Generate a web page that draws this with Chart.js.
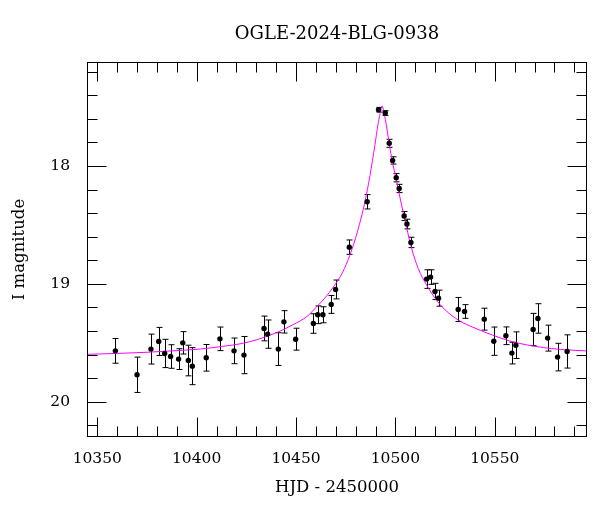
<!DOCTYPE html>
<html><head><meta charset="utf-8">
<script src="https://cdn.jsdelivr.net/npm/chart.js@4"></script>
<style>html,body{margin:0;padding:0;background:#fff}#wrap{width:600px;height:512px}</style>
</head><body><div id="wrap"><canvas id="c" width="600" height="512"></canvas></div>
<script>
const hjd = [10359.1, 10370.0, 10377.0, 10380.9, 10383.9, 10386.9, 10390.9, 10393.0, 10395.8, 10397.8,
  10404.8, 10411.7, 10418.8, 10423.8, 10433.9, 10435.7, 10441.1, 10443.9, 10449.8, 10458.7,
  10460.9, 10463.5, 10467.7, 10469.9, 10476.8, 10485.8, 10491.5, 10494.9, 10496.9, 10498.6,
  10500.4, 10501.9, 10504.4, 10505.8, 10507.8, 10515.7, 10517.7, 10519.9, 10521.7, 10531.6,
  10534.8, 10544.7, 10549.5, 10555.6, 10558.6, 10560.6, 10569.3, 10571.7, 10576.6, 10581.6, 10586.4];
const mag = [19.568, 19.771, 19.553, 19.488, 19.590, 19.616, 19.638, 19.500, 19.650, 19.698,
  19.627, 19.466, 19.568, 19.604, 19.378, 19.426, 19.553, 19.322, 19.469, 19.336,
  19.262, 19.262, 19.174, 19.047, 18.688, 18.303, 17.522, 17.550, 17.807, 17.952,
  18.099, 18.190, 18.424, 18.492, 18.648, 18.959, 18.942, 19.064, 19.121, 19.217,
  19.234, 19.299, 19.486, 19.440, 19.587, 19.520, 19.387, 19.293, 19.460, 19.621, 19.573];
const magErr = [0.105, 0.150, 0.127, 0.119, 0.120, 0.100, 0.088, 0.095, 0.130, 0.157,
  0.113, 0.100, 0.109, 0.158, 0.105, 0.120, 0.139, 0.095, 0.093, 0.083,
  0.075, 0.068, 0.076, 0.080, 0.061, 0.061, 0.020, 0.020, 0.034, 0.031,
  0.035, 0.035, 0.038, 0.041, 0.044, 0.079, 0.062, 0.069, 0.068, 0.102,
  0.058, 0.093, 0.120, 0.075, 0.092, 0.113, 0.137, 0.125, 0.110, 0.117, 0.141];

const modelHjd = [10344, 10360, 10375, 10390, 10402, 10413, 10423, 10430, 10436, 10440,
  10444, 10448, 10452, 10456, 10460, 10464.5, 10469, 10473.5, 10477, 10481,
  10484.7, 10487.2, 10489.7, 10491.2, 10492.3, 10493.3, 10494.4, 10495.5, 10496.6, 10498.1,
  10500.6, 10503.1, 10505.6, 10508.1, 10511.5, 10515.7, 10519.9, 10525, 10532, 10540,
  10549, 10557.6, 10566, 10574.4, 10583, 10598];
const modelMag = [19.598, 19.590, 19.580, 19.566, 19.552, 19.530, 19.505, 19.475, 19.440, 19.415,
  19.385, 19.350, 19.315, 19.270, 19.200, 19.120, 19.020, 18.900, 18.760, 18.550,
  18.300, 18.080, 17.820, 17.650, 17.555, 17.490, 17.560, 17.660, 17.780, 17.930,
  18.130, 18.330, 18.520, 18.695, 18.870, 19.010, 19.120, 19.220, 19.310, 19.375,
  19.435, 19.485, 19.517, 19.540, 19.556, 19.570];

const xTickLabels = [10350, 10400, 10450, 10500, 10550];
const yTickLabels = [18, 19, 20];
const chartTitle = 'OGLE-2024-BLG-0938';
const xTitle = 'HJD - 2450000';
const yTitle = 'I magnitude';

const SERIF = "'DejaVu Serif', 'Liberation Serif', serif";

const framePlugin = {
  id: 'frameTicks',
  beforeDatasetsDraw(chart) {
    const {ctx, chartArea: a, scales: {x, y}} = chart;
    ctx.save();
    ctx.beginPath();
    ctx.rect(a.left, a.top, a.right - a.left, a.bottom - a.top);
    ctx.clip();
    ctx.strokeStyle = '#000';
    ctx.lineWidth = 1;
    for (let i = 0; i < hjd.length; i++) {
      const px = Math.round(x.getPixelForValue(hjd[i])) + 0.5;
      const y1 = y.getPixelForValue(mag[i] - magErr[i]);
      const y2 = y.getPixelForValue(mag[i] + magErr[i]);
      ctx.beginPath();
      ctx.moveTo(px, y1); ctx.lineTo(px, y2);
      ctx.moveTo(px - 3, y1); ctx.lineTo(px + 3, y1);
      ctx.moveTo(px - 3, y2); ctx.lineTo(px + 3, y2);
      ctx.stroke();
    }
    ctx.restore();
  },
  afterDraw(chart) {
    const {ctx, chartArea: a, scales: {x, y}} = chart;
    ctx.save();
    ctx.strokeStyle = '#000';
    ctx.lineWidth = 1;
    const L = Math.round(a.left) + 0.5, R = Math.round(a.right) - 0.5;
    const T = Math.round(a.top) + 0.5, B = Math.round(a.bottom) - 0.5;
    ctx.strokeRect(L, T, R - L, B - T);
    const major = 19, minor = 10;
    ctx.beginPath();
    for (let v = Math.ceil(x.min / 10) * 10; v <= x.max; v += 10) {
      const isMajor = xTickLabels.includes(v) || v % 50 === 0;
      const len = isMajor ? major : minor;
      const px = Math.round(x.getPixelForValue(v)) + 0.5;
      ctx.moveTo(px, B); ctx.lineTo(px, B - len);
      ctx.moveTo(px, T); ctx.lineTo(px, T + len);
    }
    for (let k = Math.ceil(y.min / 0.2 - 1e-6); k * 0.2 <= y.max + 1e-6; k++) {
      const v = k * 0.2;
      const isMajor = Math.abs(v - Math.round(v)) < 1e-6;
      const len = isMajor ? major : minor;
      const py = Math.round(y.getPixelForValue(v)) + 0.5;
      ctx.moveTo(L, py); ctx.lineTo(L + len, py);
      ctx.moveTo(R, py); ctx.lineTo(R - len, py);
    }
    ctx.stroke();
    ctx.restore();
  }
};

new Chart(document.getElementById('c'), {
  type: 'scatter',
  data: {
    datasets: [
      {
        label: 'data',
        data: hjd.map((v, i) => ({x: v, y: mag[i]})),
        pointRadius: 2.7,
        pointBackgroundColor: '#000',
        pointBorderWidth: 0,
        showLine: false
      },
      {
        label: 'model',
        data: modelHjd.map((v, i) => ({x: v, y: modelMag[i]})),
        showLine: true,
        borderColor: '#ff00ff',
        borderWidth: 1,
        pointRadius: 0,
        cubicInterpolationMode: 'monotone'
      }
    ]
  },
  options: {
    responsive: false,
    animation: false,
    devicePixelRatio: 1,
    layout: {padding: {left: 0, right: 13, top: 0, bottom: 0}},
    plugins: {
      legend: {display: false},
      tooltip: {enabled: false},
      title: {
        display: true, text: chartTitle, fullSize: false,
        color: '#000', font: {family: SERIF, size: 18, weight: 'normal'},
        padding: {top: 24, bottom: 16.4}
      }
    },
    scales: {
      x: {
        type: 'linear', min: 10344.82, max: 10596.4,
        grid: {display: false, drawTicks: false},
        border: {display: false},
        afterBuildTicks: s => { s.ticks = xTickLabels.map(v => ({value: v})); },
        afterFit: s => { s.height = 75; },
        ticks: {
          color: '#000', font: {family: SERIF, size: 15.5}, padding: 13,
          maxRotation: 0, autoSkip: false, includeBounds: false,
          callback: v => String(v)
        },
        title: {
          display: true, text: xTitle, color: '#000',
          font: {family: SERIF, size: 16.5}, padding: {top: 0, bottom: 14.6}
        }
      },
      y: {
        type: 'linear', reverse: true, min: 17.117, max: 20.299,
        grid: {display: false, drawTicks: false},
        border: {display: false},
        afterBuildTicks: s => { s.ticks = yTickLabels.map(v => ({value: v})); },
        afterFit: s => { s.width = 87; },
        ticks: {
          color: '#000', font: {family: SERIF, size: 15.5}, padding: 17,
          autoSkip: false, includeBounds: false,
          callback: v => String(v)
        },
        title: {
          display: true, text: yTitle, color: '#000',
          font: {family: SERIF, size: 16.5}, padding: {top: 10.1, bottom: 0}
        }
      }
    }
  },
  plugins: [framePlugin]
});
</script>
</body></html>
